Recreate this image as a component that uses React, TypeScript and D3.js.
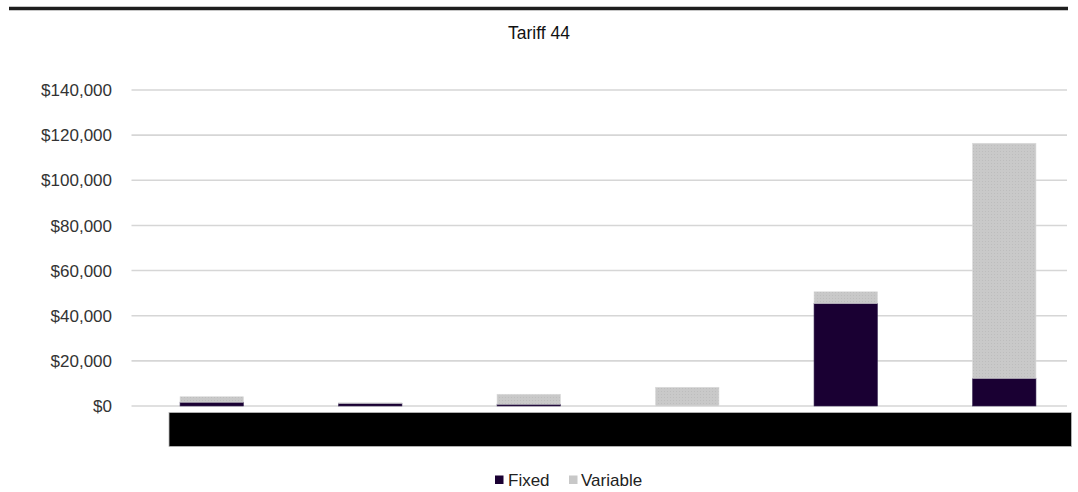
import React from "react";
import * as d3 from "d3";

// Annual cost split per account (labels are masked on the axis)
const categories = ["A", "B", "C", "D", "E", "F"];
const fixedCost = [1700, 1200, 800, 0, 45500, 12300];
const variableCost = [2400, 200, 4400, 8300, 5100, 104100];
const tickValues = [0, 20000, 40000, 60000, 80000, 100000, 120000, 140000];
const seriesNames = ["Fixed", "Variable"];
const seriesColors = ["#1a0033", "#c8c8c8"];

const W = 1078;
const H = 492;
const FONT = "'Liberation Sans', Arial, sans-serif";

export default function App() {
  const y = d3.scaleLinear().domain([0, 140000]).range([406, 90]);
  const x = d3
    .scaleBand<string>()
    .domain(categories)
    .range([132.5, 1083.5])
    .paddingInner(0.6)
    .paddingOuter(0.3);
  const fmt = (v: number) => "$" + d3.format(",")(v);

  const rows = categories.map((c, i) => ({ c, fixed: fixedCost[i], variable: variableCost[i] }));
  const stack = d3.stack<any>().keys(["fixed", "variable"])(rows);

  return (
    <svg
      width={W}
      height={H}
      style={{ position: "absolute", left: 0, top: 0, background: "#fff" }}
      fontFamily={FONT}
    >
      <defs>
        <pattern id="grain" width="3" height="3" patternUnits="userSpaceOnUse">
          <rect width="3" height="3" fill="#c9c9c9" />
          <rect x="1" y="1" width="1" height="1" fill="#bdbdbd" />
        </pattern>
      </defs>
      {/* top rule */}
      <line x1={9} x2={1068} y1={8.5} y2={8.5} stroke="#1e1e1e" strokeWidth={3.5} />

      <text x={539} y={39} textAnchor="middle" fontSize={17.5} fill="#111">
        Tariff 44
      </text>

      {/* gridlines + y tick labels */}
      {tickValues.map((t) => (
        <g key={t}>
          <line x1={131.5} x2={1067} y1={y(t)} y2={y(t)} stroke="#d6d6d6" strokeWidth={1.6} />
          <text
            x={112}
            y={y(t)}
            dy="0.36em"
            textAnchor="end"
            fontSize={17}
            fill="#333"
          >
            {fmt(t)}
          </text>
        </g>
      ))}

      {/* stacked bars */}
      {stack.map((layer, si) => (
        <g key={layer.key}>
          {layer.map((d: any, i: number) => {
            const h = y(d[0]) - y(d[1]);
            if (h <= 0) return null;
            return (
              <rect
                key={i}
                x={x(categories[i])}
                y={y(d[1])}
                width={x.bandwidth()}
                height={h}
                fill={si === 1 ? "url(#grain)" : seriesColors[si]}
                stroke={si === 1 ? "#dadada" : "#3a2a55"}
                strokeWidth={0.6}
              />
            );
          })}
        </g>
      ))}

      {/* masked category label strip */}
      <rect x={169} y={412.5} width={902.5} height={34} fill="#000" stroke="#bbb" strokeWidth={0.8} />

      {/* legend */}
      <g>
        <rect x={495} y={475.5} width={8.5} height={8.5} fill={seriesColors[0]} />
        <text x={508} y={485.5} fontSize={17} fill="#222">
          {seriesNames[0]}
        </text>
        <rect x={569} y={475.5} width={8.5} height={8.5} fill={seriesColors[1]} />
        <text x={581} y={485.5} fontSize={17} fill="#222">
          {seriesNames[1]}
        </text>
      </g>
    </svg>
  );
}
